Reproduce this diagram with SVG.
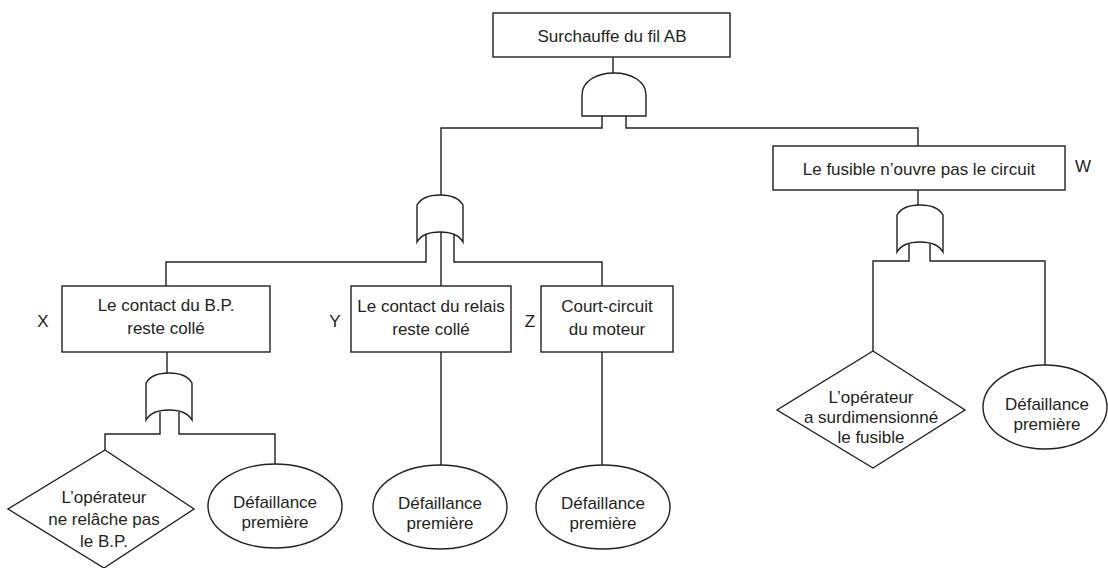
<svg xmlns="http://www.w3.org/2000/svg" width="1108" height="568" viewBox="0 0 1108 568">
<style>
.ln{fill:none;stroke:#231f20;stroke-width:1.4}
.sh{fill:#fff;stroke:#231f20;stroke-width:1.4}
text{font-family:"Liberation Sans",Arial,sans-serif;font-size:17px;fill:#231f20;text-anchor:middle}
</style>
<defs>
<path id="orgate" d="M-23,10 C-19,3 -11,0 0,0 C11,0 19,3 23,10 V47 C19,40 11,37 0,37 C-11,37 -19,40 -23,47 Z"/>
<path id="andgate" d="M-32,43 V22 C-32,8 -17,0 0,0 C17,0 32,8 32,22 V43 Z"/>
</defs>
<g id="connectors" class="ln">
<path d="M613,57 V73"/>
<path d="M602,110 V128 H441 V195"/>
<path d="M626,110 V128 H918 V146"/>
<path d="M426,234 V262 H166 V286"/>
<path d="M441,230 V286"/>
<path d="M454,234 V262 H602 V286"/>
<path d="M918,190 V205"/>
<path d="M909,244 V261 H873 V351"/>
<path d="M930,244 V261 H1045 V365"/>
<path d="M167,352 V373"/>
<path d="M160,412 V434 H105 V450"/>
<path d="M179,412 V434 H275 V464"/>
<path d="M441,352 V465"/>
<path d="M602,352 V465"/>
</g>
<g id="top">
<rect class="sh" x="493" y="13" width="237" height="44"/>
<text x="612" y="42">Surchauffe du fil AB</text>
</g>
<g id="and-gate"><use href="#andgate" class="sh" transform="translate(614,73)"/></g>
<g id="or-gate-main"><use href="#orgate" class="sh" transform="translate(440,195)"/></g>
<g id="W">
<rect class="sh" x="773" y="146" width="292" height="44"/>
<text x="919" y="175">Le fusible n’ouvre pas le circuit</text>
<text x="1083" y="172">W</text>
</g>
<g id="or-gate-W"><use href="#orgate" class="sh" transform="translate(920,205)"/></g>
<g id="X">
<rect class="sh" x="62" y="286" width="208" height="66"/>
<text x="166" y="311">Le contact du B.P.</text>
<text x="166" y="334">reste collé</text>
<text x="43" y="327">X</text>
</g>
<g id="or-gate-X"><use href="#orgate" class="sh" transform="translate(169,373)"/></g>
<g id="Y">
<rect class="sh" x="351" y="286" width="160" height="66"/>
<text x="431" y="312">Le contact du relais</text>
<text x="431" y="335">reste collé</text>
<text x="335" y="327">Y</text>
</g>
<g id="Z">
<rect class="sh" x="541" y="286" width="132" height="66"/>
<text x="607" y="312">Court-circuit</text>
<text x="607" y="335">du moteur</text>
<text x="530" y="327">Z</text>
</g>
<g id="diamond-X">
<polygon class="sh" points="105,450 194,509 104,568 8,509"/>
<text x="104" y="503">L’opérateur</text>
<text x="104" y="525">ne relâche pas</text>
<text x="104" y="547">le B.P.</text>
</g>
<g id="ellipse-X">
<ellipse class="sh" cx="275" cy="506" rx="67" ry="42"/>
<text x="275" y="508">Défaillance</text>
<text x="275" y="528">première</text>
</g>
<g id="ellipse-Y">
<ellipse class="sh" cx="440" cy="507" rx="67" ry="42"/>
<text x="440" y="509">Défaillance</text>
<text x="440" y="529">première</text>
</g>
<g id="ellipse-Z">
<ellipse class="sh" cx="603" cy="507" rx="67" ry="42"/>
<text x="603" y="509">Défaillance</text>
<text x="603" y="529">première</text>
</g>
<g id="diamond-W">
<polygon class="sh" points="873,351 965,410 873,468 777,410"/>
<text x="871" y="403">L’opérateur</text>
<text x="871" y="423">a surdimensionné</text>
<text x="871" y="443">le fusible</text>
</g>
<g id="ellipse-W">
<ellipse class="sh" cx="1045" cy="407" rx="62" ry="42"/>
<text x="1047" y="410">Défaillance</text>
<text x="1047" y="430">première</text>
</g>
</svg>
